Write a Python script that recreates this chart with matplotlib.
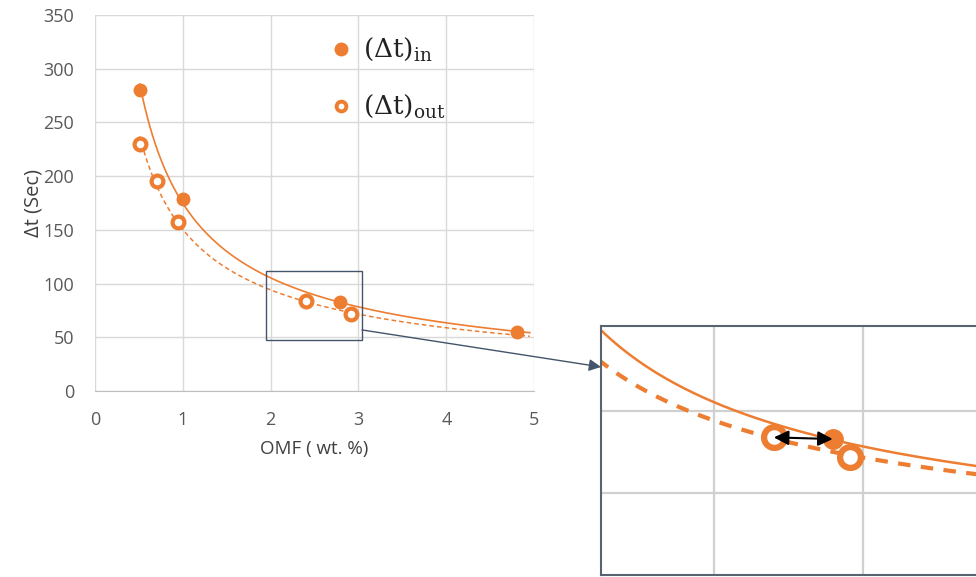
import numpy as np
import matplotlib
matplotlib.use('Agg')
import matplotlib.pyplot as plt
from matplotlib.patches import Rectangle, ConnectionPatch

# measured points, OMF (wt. %) vs delta t (s)
omf_in = [0.51, 1.005, 2.795, 4.80]
dt_in = [280, 179, 83, 55]
omf_out = [0.51, 0.71, 0.95, 2.40, 2.91]
dt_out = [230, 195.5, 157, 84, 72]

xticks = [0, 1, 2, 3, 4, 5]
yticks = [0, 50, 100, 150, 200, 250, 300, 350]

ORANGE = '#ED7D31'
FRAME = '#44546A'
GRID = '#D9D9D9'
TEXT = '#595959'

plt.rcParams['font.family'] = ['Open Sans', 'DejaVu Sans']
plt.rcParams['mathtext.fontset'] = 'dejavuserif'


def power_fit(x, y):
    """Power-law trendline, y = a * x**b, as Excel draws it."""
    b, lna = np.polyfit(np.log(x), np.log(y), 1)
    return np.exp(lna), b


a_in, b_in = power_fit(omf_in, dt_in)
a_out, b_out = power_fit(omf_out, dt_out)
xs = np.linspace(min(omf_in), 4.95, 300)

fig = plt.figure(figsize=(9.76, 5.77), dpi=100)

# main chart
ax = fig.add_axes([0.0973, 0.322, 0.45, 0.652])
ax.plot(xs, a_in * xs ** b_in, color=ORANGE, lw=1.2, zorder=2)
ax.plot(xs, a_out * xs ** b_out, color=ORANGE, lw=1.1,
        ls=(0, (3, 2)), zorder=2)
ax.plot(omf_in, dt_in, 'o', color=ORANGE, ms=9, mec=ORANGE, zorder=3)
ax.plot(omf_out, dt_out, 'o', mfc='white', mec=ORANGE, ms=8.5, mew=3,
        zorder=3)
ax.set_xlim(0, 5)
ax.set_ylim(0, 350)
ax.set_xticks(xticks)
ax.set_yticks(yticks)
ax.grid(True, color=GRID, lw=1)
ax.set_axisbelow(True)
for side in ['left', 'right', 'top']:
    ax.spines[side].set_visible(False)
ax.spines['bottom'].set_color('#BFBFBF')
ax.tick_params(length=0, labelsize=13, labelcolor=TEXT)
ax.tick_params(axis='y', pad=15)
ax.tick_params(axis='x', pad=14)
ax.set_xlabel('OMF ( wt. %)', fontsize=13.5, color='#404040', labelpad=8)
ax.set_ylabel('Δt (Sec)', fontsize=14.5, color='#404040', labelpad=0)

# legend drawn by hand, Excel style
ax.plot([2.8], [318], 'o', color=ORANGE, ms=9, clip_on=False)
ax.plot([2.8], [265], 'o', mfc='white', mec=ORANGE, ms=7, mew=2.8,
        clip_on=False)
ax.text(3.05, 318, r'$(\Delta\mathrm{t})_{\mathrm{in}}$', fontsize=19,
        va='center', color='#222222')
ax.text(3.05, 265, r'$(\Delta\mathrm{t})_{\mathrm{out}}$', fontsize=19,
        va='center', color='#222222')

# zoom box
ax.add_patch(Rectangle((1.95, 48), 1.09, 64, fill=False, ec=FRAME, lw=1,
                       zorder=4))

# inset zoom
inset = fig.add_axes([0.6158, 0.0035, 0.419, 0.4315])
inset.plot(xs, a_in * xs ** b_in, color=ORANGE, lw=1.8, zorder=2)
inset.plot(xs, a_out * xs ** b_out, color=ORANGE, lw=3,
           ls=(0, (3, 2.5)), zorder=2)
inset.plot(omf_in, dt_in, 'o', color=ORANGE, ms=14, zorder=3)
inset.plot(omf_out, dt_out, 'o', mfc='white', mec=ORANGE, ms=15, mew=4.5,
           zorder=3)
inset.set_xlim(1.24, 3.985)
inset.set_ylim(0, 152)
inset.set_xticks([2, 3])
inset.set_yticks([50, 100])
inset.grid(True, color='#D0D0D0', lw=1.6)
inset.set_axisbelow(True)
inset.tick_params(length=0, labelbottom=False, labelleft=False)
for spine in inset.spines.values():
    spine.set_color('#5A6470')
    spine.set_linewidth(1.5)
inset.annotate('', xy=(omf_in[2], dt_in[2]),
               xytext=(omf_out[3], dt_out[3]),
               arrowprops=dict(arrowstyle='<|-|>', color='black', lw=1.5,
                               mutation_scale=22, shrinkA=0, shrinkB=0),
               zorder=5)

con = ConnectionPatch(xyA=(3.04, 57), coordsA=ax.transData,
                      xyB=(1.24, 127), coordsB=inset.transData,
                      arrowstyle='-|>', color=FRAME, lw=1,
                      mutation_scale=18, shrinkA=0, shrinkB=0)
fig.add_artist(con)

fig.savefig('out.png', dpi=100)
